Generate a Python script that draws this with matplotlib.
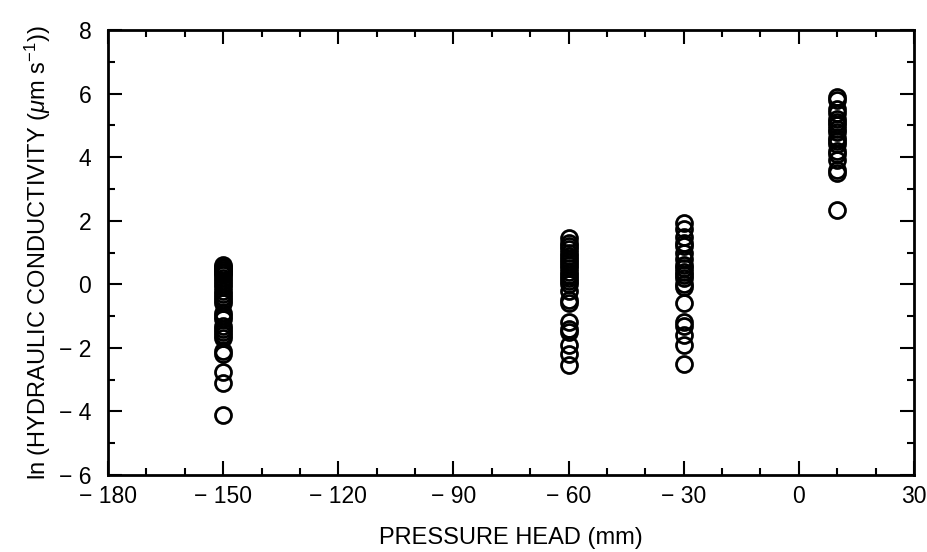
import numpy as np
import matplotlib.pyplot as plt
from matplotlib.ticker import MultipleLocator

plt.rcParams['font.family'] = ['Liberation Sans', 'DejaVu Sans']
plt.rcParams['mathtext.fontset'] = 'custom'
plt.rcParams['mathtext.it'] = 'Liberation Sans:italic'
plt.rcParams['mathtext.rm'] = 'Liberation Sans'

# Trykkhøyde (mm) og målte ln(K)
k_m150 = [0.62, 0.55, 0.5, 0.45, 0.4, 0.35, 0.3, 0.2, 0.1, 0.0, -0.1, -0.2,
          -0.3, -0.4, -0.5, -0.6, -0.9, -1.0, -1.1, -1.3, -1.4, -1.5, -1.6,
          -1.7, -2.1, -2.2, -2.75, -3.1, -4.12]
k_m60 = [1.45, 1.3, 1.2, 1.1, 1.0, 0.9, 0.8, 0.7, 0.6, 0.5, 0.4, 0.3, 0.2,
         0.1, 0.0, -0.2, -0.5, -0.6, -1.2, -1.4, -1.5, -1.9, -2.2, -2.55]
k_m30 = [1.92, 1.75, 1.5, 1.3, 1.2, 1.0, 0.8, 0.6, 0.5, 0.4, 0.3, 0.2, 0.0,
         -0.1, -0.6, -1.2, -1.3, -1.6, -1.9, -2.5]
k_p10 = [5.9, 5.8, 5.5, 5.4, 5.2, 5.1, 5.0, 4.9, 4.8, 4.6, 4.5, 4.4, 4.2,
         4.1, 3.9, 3.6, 3.5, 2.35]

trykk = [-150, -60, -30, 10]
alle_k = [k_m150, k_m60, k_m30, k_p10]

fig = plt.figure(figsize=(9.28, 5.52), dpi=100)
ax = fig.add_axes([108/928, 1 - 475/552, (914-108)/928, (475-30)/552])

for h, k in zip(trykk, alle_k):
    ax.plot(np.full(len(k), h), k, 'o', mfc='none', mec='black', ms=11.5, mew=2)

ax.set_xlim(-180, 30)
ax.set_ylim(-6, 8)
ax.xaxis.set_major_locator(MultipleLocator(30))
ax.xaxis.set_minor_locator(MultipleLocator(10))
ax.yaxis.set_major_locator(MultipleLocator(2))
ax.yaxis.set_minor_locator(MultipleLocator(1))
ax.tick_params(which='both', direction='in', top=True, right=True, width=1.5)
ax.tick_params(which='major', length=10, labelsize=16.5)
ax.tick_params(which='minor', length=5)
ax.tick_params(axis='x', pad=7)
ax.tick_params(axis='y', pad=12)
for s in ax.spines.values():
    s.set_linewidth(2)

ax.set_xticklabels([str(int(t)).replace('-', '\u2212 ') for t in ax.get_xticks()])
ax.set_yticklabels([str(int(t)).replace('-', '\u2212 ') for t in ax.get_yticks()])

ax.set_xlabel('PRESSURE HEAD (mm)', fontsize=17, labelpad=14)
ax.set_ylabel(r'ln (HYDRAULIC CONDUCTIVITY ($\mu$m s$^{-1}$))', fontsize=17, labelpad=4)

fig.savefig('out.png', dpi=100)
